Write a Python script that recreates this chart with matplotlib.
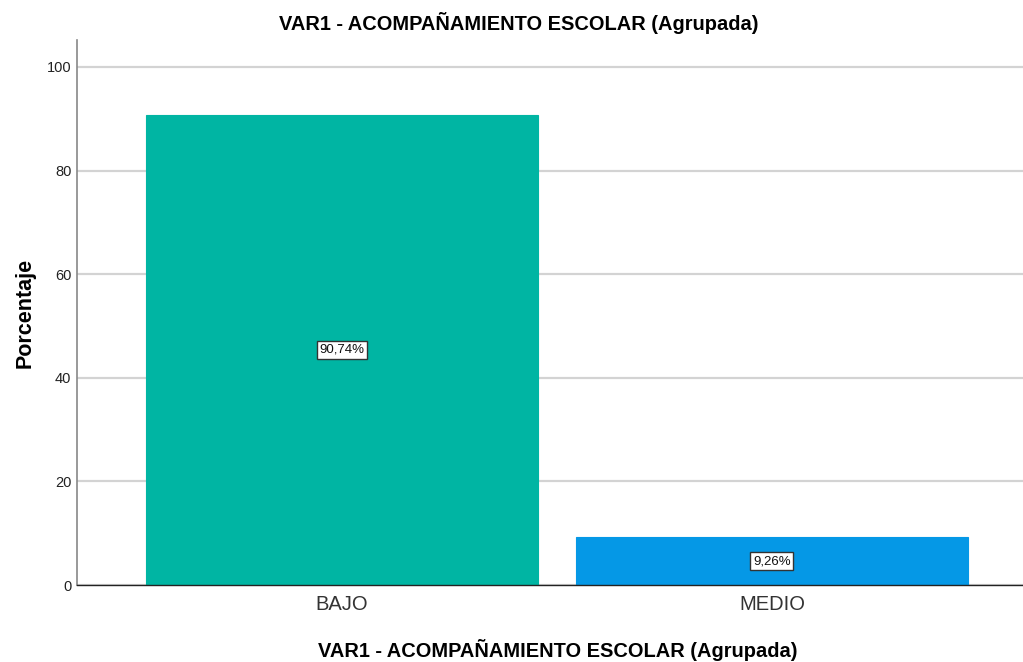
import matplotlib.pyplot as plt
import numpy as np

plt.rcParams['font.family'] = ['Liberation Sans', 'DejaVu Sans']

# data
categories = ['BAJO', 'MEDIO']
percentages = [90.74, 9.26]
bar_labels = ['90,74%', '9,26%']
colors = ['#00B5A3', '#0598E6']
title = 'VAR1 - ACOMPAÑAMIENTO ESCOLAR (Agrupada)'

fig = plt.figure(figsize=(10.23, 6.62), dpi=100)
ax = fig.add_axes([0.0753, 0.1163, 0.9247, 0.8233])

x = np.arange(len(categories))
bars = ax.bar(x, percentages, width=0.91, color=colors, zorder=3,
              edgecolor=colors, linewidth=0.8)

# boxed labels in the middle of each bar
for xi, val, lab in zip(x, percentages, bar_labels):
    ax.text(xi, val / 2, lab, ha='center', va='center', fontsize=9.5,
            color='#111111', zorder=4,
            bbox=dict(boxstyle='square,pad=0.2', fc='white', ec='#333333', lw=1))

ax.set_xlim(-0.616, 1.584)
ax.set_ylim(0, 105.2)
ax.set_yticks([0, 20, 40, 60, 80, 100])
ax.set_xticks(x)
ax.set_xticklabels(categories, fontsize=14.5, color='#333333')
ax.tick_params(axis='y', length=0, labelsize=10.5, pad=4, colors='#222222')
ax.tick_params(axis='x', length=0, pad=7)

ax.yaxis.grid(True, color='#d3d3d3', linewidth=1.6, zorder=0)
ax.set_axisbelow(True)

for s in ['top', 'right']:
    ax.spines[s].set_visible(False)
ax.spines['left'].set_color('#888888')
ax.spines['left'].set_linewidth(1.2)
ax.spines['bottom'].set_color('#222222')
ax.spines['bottom'].set_linewidth(1.0)
ax.spines['bottom'].set_zorder(5)

ax.set_ylabel('Porcentaje', fontsize=15.5, fontweight='bold', labelpad=8)
fig.text(0.545, 0.018, title, ha='center', va='center', fontsize=14.4,
         fontweight='bold')
fig.text(0.5068, 0.966, title, ha='center', va='center', fontsize=14.4,
         fontweight='bold')

plt.savefig('out.png', dpi=100)
